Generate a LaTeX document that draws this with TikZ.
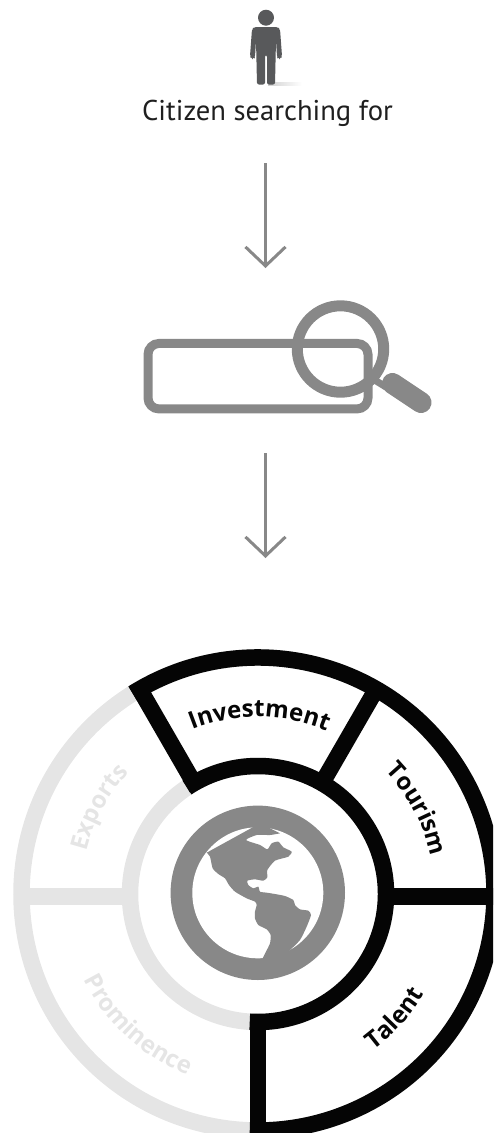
\documentclass[tikz,border=0pt]{standalone}
\usepackage{fontspec}
\setmainfont{PT Sans}
\newfontfamily\lblfont{Open Sans}[BoldFont={Open Sans Bold}]
\usetikzlibrary{arrows.meta,decorations.text}
\definecolor{ringblack}{HTML}{050505}
\definecolor{ringgray}{HTML}{E5E5E5}
\definecolor{midgray}{HTML}{888888}
\definecolor{persongray}{HTML}{58595B}
\tikzset{
  flow/.style={draw=midgray,line width=3.2pt,-{Straight Barb[length=19pt,width=40pt,line width=3pt]}},
  ringline/.style={line width=16.5pt},
}
\newcommand{\lblfmt}{\fontsize{24}{27}\selectfont\lblfont\bfseries}
\newcommand{\curvedlabel}[5]{%
  \path[decorate,decoration={text effects along path,text={#2},text align=center,
    text effects/.cd,text along path,characters={text=#1,font=\lblfmt,inner sep=0pt}}]
    (#4:#3pt) arc[start angle=#4,end angle=#5,radius=#3pt];}
\begin{document}
\begin{tikzpicture}[x=1pt,y=-1pt]
\useasboundingbox (0,0) rectangle (493,1133);
\clip (0,0) rectangle (493,1133);
% person
\shade[left color=black!18,right color=white] (268,82) rectangle (302,85);
\fill[persongray] (266,17.7) circle[radius=8];
\fill[persongray,rounded corners=2pt]
  (254,27) -- (278,27) -- (280,29) -- (282,56) -- (281,59) -- (278,59) -- (277,57) -- (276,40)
  -- (275,84.5) -- (267,84.5) -- (267,55) -- (265,55) -- (265,84.5) -- (257,84.5) -- (256,40)
  -- (255,57) -- (254,59) -- (251,59) -- (250,56) -- (252,29) -- cycle;
\node[inner sep=0pt,anchor=base,font=\fontsize{28.6}{30}\selectfont,text=black!88] (citizen) at (267.5,120) {Citizen searching for};
% arrows
\coordinate (a1s) at (265.5,163);
\coordinate (a1e) at (265.5,268);
\coordinate (a2s) at (265.5,453);
\coordinate (a2e) at (265.5,558);
\draw[flow] (a1s) -- (a1e);
\draw[flow,line width=3pt] (a2s) -- (a2e);
% search box
\node[draw=midgray,line width=9pt,rounded corners=11pt,minimum width=220pt,minimum height=65.5pt,inner sep=0pt,outer sep=0pt] (searchbar) at (258,376.2) {};
\node[draw=midgray,line width=11pt,circle,minimum size=86.4pt,inner sep=0pt,outer sep=0pt] (lens) at (340.5,349) {};
\draw[midgray,line width=7pt] (373,379) -- (386,387);
\draw[midgray,line width=21pt,line cap=round] (392.5,383.5) -- (421,402.5);
% ring
\begin{scope}[shift={(258,894)},x=1pt,y=1pt]
  \draw[ringgray,ringline] (0,0) circle[radius=236.5pt];
  \draw[ringgray,ringline] (0,0) circle[radius=128pt];
  \draw[ringgray,ringline] (-120pt,-2.5pt) -- (-236pt,-2.5pt);
  % black part
  \draw[ringblack,ringline] (122:236.5pt) arc[start angle=122,end angle=-92,radius=236.5pt];
  \draw[ringblack,ringline] (123.7:128pt) arc[start angle=123.7,end angle=-93.7,radius=128pt];
  \draw[ringblack,ringline] (120:122pt) -- (120:244pt);
  \draw[ringblack,ringline] (60:122pt) -- (60:244pt);
  \draw[ringblack,ringline] (122pt,-2.5pt) -- (244pt,-2.5pt);
  \draw[ringblack,ringline] (0,-122pt) -- (0,-244pt);
  \curvedlabel{ringblack}{Investment}{177}{113}{66}
  \curvedlabel{ringblack}{Tourism}{177}{44}{13}
  \curvedlabel{ringblack}{Talent}{194}{-54.5}{-30}
  \curvedlabel{ringgray}{Prominence}{194}{204}{251}
  \curvedlabel{ringgray}{Exports}{177}{166}{138}
\end{scope}
\fill[midgray] (257.8,892.8) circle[radius=87.2];
\fill[white] (257.8,892.8) circle[radius=65.5];
\begin{scope}[shift={(160,790)},x=0.33333pt,y=-0.33333pt]
  \fill[midgray]
    plot[smooth,tension=0.35] coordinates {(140,188) (150,200) (158,235) (175,252) (195,265) (207,285) (225,305) (260,325) (285,335) (290,345) (285,365) (285,385) (295,405) (320,418) (332,435) (330,460) (318,485) (307,507)}
    -- (310,530) -- (385,530) -- (385,485)
    -- plot[smooth,tension=0.35] coordinates {(385,485) (420,450) (440,410) (453,375) (445,362) (420,358) (405,345) (400,330) (375,318) (345,312) (320,308) (300,305) (295,290) (280,295) (265,285) (262,272) (285,268) (310,272) (322,262) (322,240) (345,212) (385,200) (395,185) (370,172) (355,155) (335,160) (322,178) (300,165) (258,150) (290,135) (330,135) (360,130)}
    -- (300,100) -- cycle;
\end{scope}
\end{tikzpicture}
\end{document}
